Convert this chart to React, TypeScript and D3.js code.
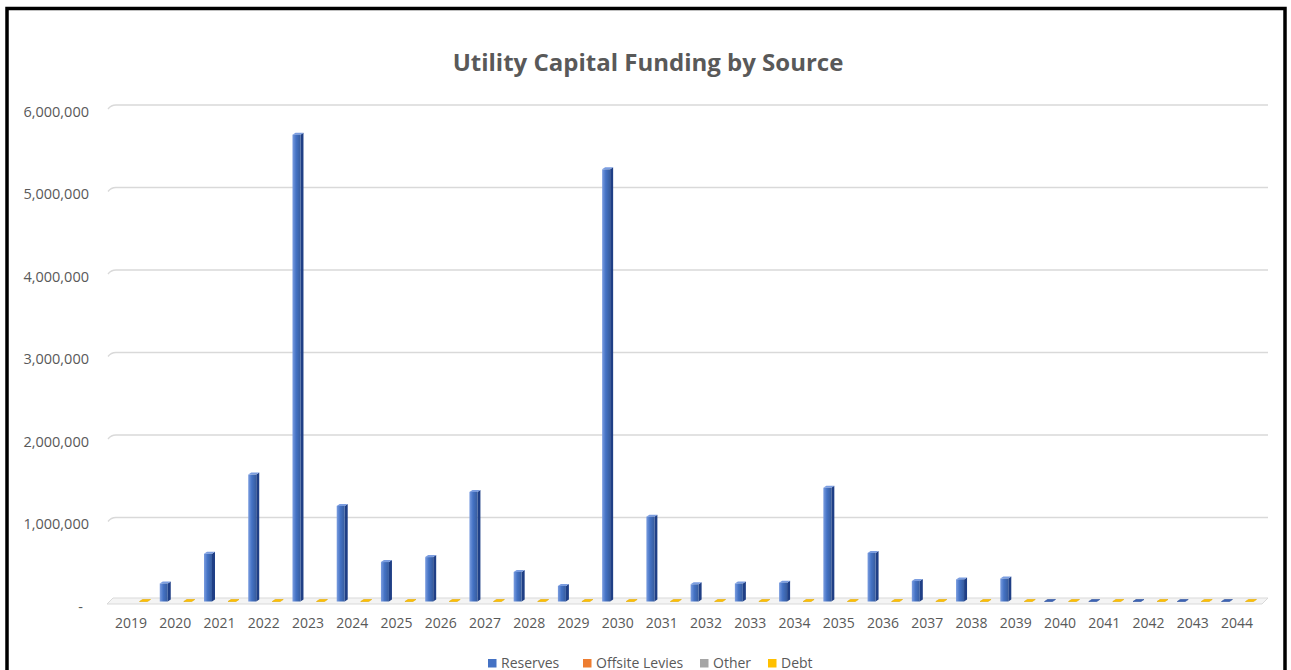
import React from "react";
import * as d3 from "d3";

const title = "Utility Capital Funding by Source";
const years = ["2019","2020","2021","2022","2023","2024","2025","2026","2027","2028","2029","2030","2031","2032","2033","2034","2035","2036","2037","2038","2039","2040","2041","2042","2043","2044"];
const reserves: (number | null)[] = [null, 200000, 560000, 1520000, 5640000, 1140000, 460000, 520000, 1310000, 340000, 170000, 5220000, 1010000, 190000, 200000, 210000, 1360000, 570000, 230000, 250000, 260000, 0, 0, 0, 0, 0];
const offsiteLevies: (number | null)[] = [null, null, null, null, null, null, null, null, null, null, null, null, null, null, null, null, null, null, null, null, null, null, null, null, null, null];
const other: (number | null)[] = [null, null, null, null, null, null, null, null, null, null, null, null, null, null, null, null, null, null, null, null, null, null, null, null, null, null];
const debt: (number | null)[] = [0, 0, 0, 0, 0, 0, 0, 0, 0, 0, 0, 0, 0, 0, 0, 0, 0, 0, 0, 0, 0, 0, 0, 0, 0, 0];
const seriesNames = ["Reserves", "Offsite Levies", "Other", "Debt"];
const seriesColors = ["#4472C4", "#ED7D31", "#A5A5A5", "#FFC000"];
const seriesDark = ["#1f3f86", "#b3561b", "#7a7a7a", "#c99700"];
const seriesLight = ["#7b9de0", "#f3a36d", "#c8c8c8", "#ffd75a"];
const yTicks = [0, 1000000, 2000000, 3000000, 4000000, 5000000, 6000000];

const W = 1291, H = 670;
const FONT = "'Open Sans', 'Liberation Sans', sans-serif";

export default function App() {
  const allSeries = [reserves, offsiteLevies, other, debt];
  const x0 = d3.scaleBand<string>().domain(years).range([108.9, 1259.1]).padding(0);
  const x1 = d3.scaleBand<string>().domain(seriesNames).range([-14, 18]).padding(0);
  const y = d3.scaleLinear().domain([0, 6000000]).range([600, 105]);
  const fmt = (v: number) => (v === 0 ? "-" : d3.format(",")(v));
  const gridL = 116, gridR = 1268;
  const base = y(0) + 1.5;

  const legendX = [488, 583, 700, 768];

  return (
    <div style={{ position: "fixed", left: 0, top: 0 }}>
      <svg width={W} height={H} style={{ display: "block", background: "#fff" }}>
        <defs>
          {seriesColors.map((c, i) => (
            <linearGradient key={i} id={`g${i}`} x1="0" x2="1" y1="0" y2="0">
              <stop offset="0" stopColor={seriesLight[i]} />
              <stop offset="0.45" stopColor={c} />
              <stop offset="1" stopColor={d3.color(c)!.darker(0.6).formatHex()} />
            </linearGradient>
          ))}
        </defs>
        <rect x={0} y={0} width={W} height={H} fill="#fff" />
        <text x={648} y={71} textAnchor="middle" fontFamily={FONT} fontWeight={700} fontSize={24} fill="#595959">{title}</text>

        {/* floor */}
        <path d={`M${gridL - 3},${y(0) - 2} L${gridR},${y(0) - 2} L${gridR - 6},${y(0) + 4} L${gridL - 9},${y(0) + 4} Z`} fill="#f4f4f4" stroke="#d9d9d9" strokeWidth={1} />

        {/* gridlines */}
        {yTicks.filter(t => t > 0).map(t => (
          <path key={t} d={`M${gridL - 8},${y(t) + 4} Q${gridL - 5},${y(t)} ${gridL},${y(t)} L${gridR},${y(t)}`} fill="none" stroke="#d9d9d9" strokeWidth={1.3} />
        ))}

        {/* y tick labels */}
        {yTicks.map(t => (
          <text key={t} x={t === 0 ? 83 : 89} y={y(t) + 11.5} textAnchor="end" fontFamily={FONT} fontSize={14.5} fill="#595959">{fmt(t)}</text>
        ))}

        {/* bars */}
        {years.map((yr, i) => (
          <g key={yr}>
            {allSeries.map((s, si) => {
              const v = s[i];
              if (v === null || v === undefined) return null;
              const c = (x0(yr) as number) + x0.bandwidth() / 2 + (x1(seriesNames[si]) as number) + x1.bandwidth() / 2;
              const l = c - 5.5, r = c + 2.5, d = 3, dy = 2;
              if (v === 0) {
                return (
                  <path key={si} d={`M${l},${base} L${r},${base} L${r + d},${base - dy} L${l + d},${base - dy} Z`} fill={si === 0 ? "#3b62b4" : seriesColors[si]} stroke={si === 0 ? "#2a4f9c" : "#e0a800"} strokeWidth={0.6} />
                );
              }
              const top = y(v);
              return (
                <g key={si}>
                  <path d={`M${r},${top} L${r + d},${top - dy} L${r + d},${base - dy} L${r},${base} Z`} fill={seriesDark[si]} />
                  <path d={`M${l},${top} L${r},${top} L${r + d},${top - dy} L${l + d},${top - dy} Z`} fill={seriesLight[si]} />
                  <rect x={l} y={top} width={r - l} height={base - top} fill={`url(#g${si})`} />
                </g>
              );
            })}
          </g>
        ))}

        {/* x labels */}
        {years.map(yr => (
          <text key={yr} x={(x0(yr) as number) + x0.bandwidth() / 2} y={628} textAnchor="middle" fontFamily={FONT} fontSize={14} fill="#595959">{yr}</text>
        ))}

        {/* legend */}
        {seriesNames.map((n, i) => (
          <g key={n} transform={`translate(${legendX[i]},0)`}>
            <rect x={0} y={659} width={8.5} height={8.5} fill={seriesColors[i]} />
            <text x={13} y={667.5} fontFamily={FONT} fontSize={14} fill="#595959">{n}</text>
          </g>
        ))}

        {/* outer frame */}
        <rect x={7} y={8.5} width={1278} height={700} fill="none" stroke="#000" strokeWidth={3.5} />
      </svg>
    </div>
  );
}
